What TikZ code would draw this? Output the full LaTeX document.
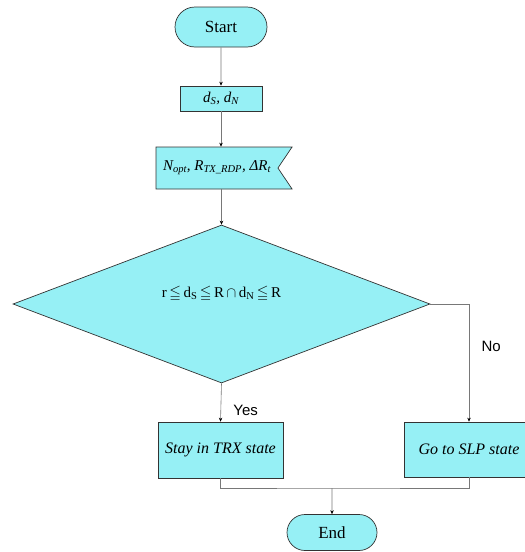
\documentclass[tikz,border=0pt]{standalone}
\usepackage{fontspec}
\usepackage{amssymb}
\setmainfont{Liberation Serif}
\newfontfamily\labelfont{Liberation Sans}
\usetikzlibrary{shapes.misc,shapes.symbols,shapes.geometric,arrows.meta}
\definecolor{boxcyan}{RGB}{150,240,245}
\definecolor{linegray}{RGB}{120,120,120}

\begin{document}
\begin{tikzpicture}[x=1pt,y=-1pt,
  box/.style={draw=black!80,fill=boxcyan,line width=0.7pt,inner sep=0pt,
    font=\fontsize{15}{18}\selectfont},
  term/.style={box,rounded rectangle,font=\fontsize{17}{20}\selectfont},
  link/.style={draw=linegray,line width=0.6pt},
  arr/.style={link,-{Stealth[length=4pt,width=3.5pt,color=black]}},
  tag/.style={font=\labelfont\fontsize{15}{18}\selectfont}]
\useasboundingbox (0,0) rectangle (525,552);
\clip (0,0) rectangle (525,552);
\node[term,minimum width=92pt,minimum height=40pt] (start) at (221,27) {Start};
\node[box,minimum width=82pt,minimum height=25pt] (input) at (221,98.5)
  {\textit{d\textsubscript{S}, d\textsubscript{N}}};
\node[box,signal,signal to=nowhere,signal from=east,signal pointer angle=112,
  minimum width=136pt,minimum height=42pt] (param) at (217,168)
  {\textit{N\textsubscript{opt}, R\textsubscript{TX\_RDP}, ΔR\textsubscript{t}}};
\node[box,diamond,minimum width=417pt,minimum height=158pt] (cond) at (221.5,304)
  {\raisebox{24pt}{r\,$\leqq$\,d\textsubscript{S}\,$\leqq$\,R\,$\cap$\,d\textsubscript{N}\,$\leqq$\,R}};
\node[box,minimum width=125pt,minimum height=56pt,font=\fontsize{16}{19}\selectfont\itshape]
  (stay) at (220.5,450) {Stay in TRX state};
\node[box,minimum width=130pt,minimum height=55pt,font=\fontsize{16}{19}\selectfont\itshape]
  (go) at (469,449.5) {Go to SLP state};
\node[term,minimum width=90pt,minimum height=36pt] (finish) at (332,532.5) {End};
\coordinate (merge) at (finish.north |- 0,488);
% connectors
\draw[arr] (start) -- (input);
\draw[arr] (input.south) -- (input.south |- param.north);
\draw[arr] (cond.north |- param.south) -- (cond.north);
\draw[arr] (cond.south) -- node[tag,pos=0.7,right=9pt] {Yes} (stay.north);
\draw[arr] (cond.east) -| node[tag,pos=0.68,right=9pt] {No} (go.north);
\draw[link] (stay.south) |- (merge) -| (go.south);
\draw[arr] (merge) -- (finish);
\end{tikzpicture}
\end{document}
